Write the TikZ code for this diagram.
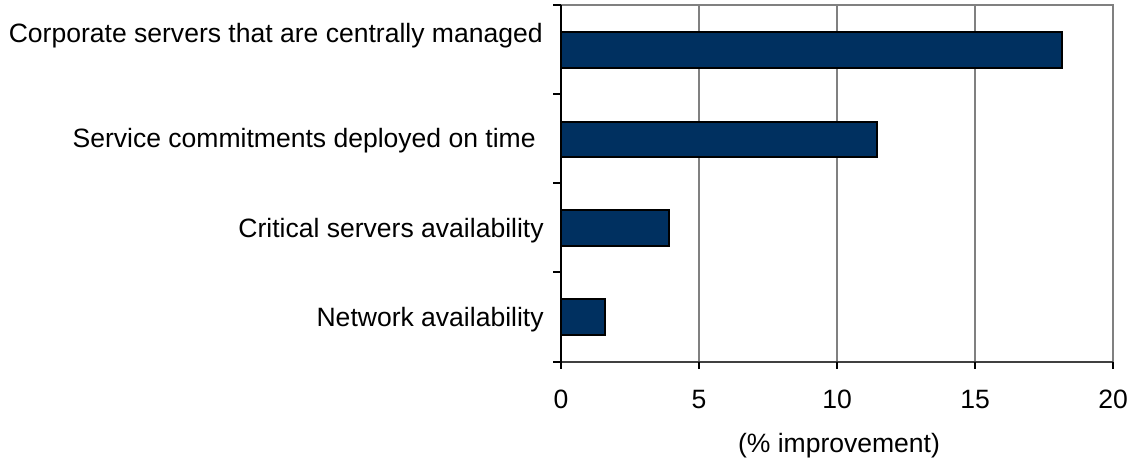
\documentclass[tikz,border=0pt]{standalone}
\usepackage{fontspec}
\setmainfont{Liberation Sans}
\usepackage{xcolor}
\definecolor{barblue}{RGB}{0,48,96}
\begin{document}
\begin{tikzpicture}[x=0.02cm,y=-0.02cm,
  bar/.style={draw=black,line width=1.5pt,fill=barblue},
  gridline/.style={draw=gray,line width=0.6pt},
  catlabel/.style={anchor=base east,inner sep=0pt,font=\fontsize{15.1}{18}\selectfont},
  numlabel/.style={anchor=base,inner sep=0pt,font=\fontsize{15.1}{18}\selectfont}]
\useasboundingbox (0,0) rectangle (1135,460);
% grid
\draw[gridline] (699,5) -- (699,362);
\draw[gridline] (837,5) -- (837,362);
\draw[gridline] (975,5) -- (975,362);
% frame
\draw[gray,line width=1.1pt] (561,5) -- (1113,5) -- (1113,362);
\draw[black!75,line width=1.1pt] (561,362) -- (1113,362);
\draw[black,line width=0.6pt] (561,5) -- (561,362);
% ticks
\draw[black,line width=0.6pt] (553,5) -- (561,5);
\draw[black,line width=0.6pt] (553,94) -- (561,94);
\draw[black,line width=0.6pt] (553,183) -- (561,183);
\draw[black,line width=0.6pt] (553,272) -- (561,272);
\draw[black,line width=0.6pt] (553,362) -- (561,362);
\draw[black,line width=0.6pt] (561,362) -- (561,369);
\draw[black,line width=0.6pt] (699,362) -- (699,369);
\draw[black,line width=0.6pt] (837,362) -- (837,369);
\draw[black,line width=0.6pt] (975,362) -- (975,369);
\draw[black,line width=0.6pt] (1113,362) -- (1113,369);
% bars
\draw[bar] (561,32) rectangle (1062,68);
\draw[bar] (561,122) rectangle (877,157);
\draw[bar] (561,210) rectangle (669,246);
\draw[bar] (561,299) rectangle (605,335);
% category labels
\node[catlabel] (corp) at (543,42) {Corporate servers that are centrally managed};
\node[catlabel] (serv) at (536,147) {Service commitments deployed on time};
\node[catlabel] (crit) at (544,237) {Critical servers availability};
\node[catlabel] (netw) at (544,326) {Network availability};
% axis numbers
\node[numlabel] (n0) at (561,408) {0};
\node[numlabel] (n5) at (699,408) {5};
\node[numlabel] (n10) at (837,408) {10};
\node[numlabel] (n15) at (975,408) {15};
\node[numlabel] (n20) at (1113,408) {20};
\node[numlabel] (unit) at (839,452) {(\% improvement)};
\end{tikzpicture}
\end{document}
